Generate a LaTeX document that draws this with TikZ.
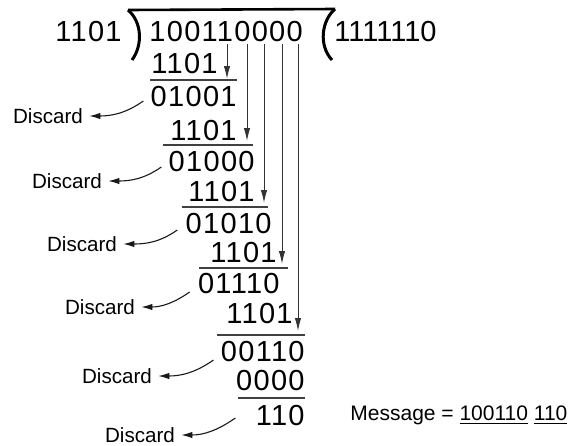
\documentclass[tikz,border=0pt]{standalone}
\usepackage{fontspec}
\setmainfont{Liberation Sans}
\newfontfamily\spreadfont[LetterSpace=4.5]{Liberation Sans}
\usetikzlibrary{arrows.meta}

\begin{document}
\begin{tikzpicture}[x=0.5pt, y=-0.5pt,
    num/.style={inner sep=0pt, font=\spreadfont\fontsize{14.5}{17}\selectfont},
    discard/.style={inner sep=3pt, font=\fontsize{10.3}{12}\selectfont},
    rule/.style={black!75, line width=0.8pt},
    drop/.style={black!80, line width=0.5pt, -{Latex[length=6.5pt, width=3.2pt]}},
    toss/.style={black!90, line width=0.55pt, -{Latex[length=5.5pt, width=3.2pt]}}]
  \useasboundingbox (0,0) rectangle (572,445);

  % Draw the division bracket
  \draw[line width=1.5pt] (128,10) .. controls (142,22) and (143,45) .. (132,60);
  \draw[line width=1.3pt] (128,10) -- (335,9);
  \draw[line width=1.5pt] (335,9) .. controls (322,20) and (318,45) .. (332,60);

  % Divisor, dividend and quotient
  \node[num, anchor=east] (divisor) at (122,32) {1101};
  \node[num, anchor=west] (dividend) at (149,32) {100110000};
  \node[num, anchor=west, font=\fontsize{14.5}{17}\selectfont] (quotient) at (334,32) {1111110};

  % Steps of the long division
  \node[num, anchor=east] (s1) at (218,64) {1101};
  \node[num, anchor=east] (r1) at (237,97) {01001};
  \node[num, anchor=east] (s2) at (237,131) {1101};
  \node[num, anchor=east] (r2) at (255,162) {01000};
  \node[num, anchor=east] (s3) at (255,192) {1101};
  \node[num, anchor=east] (r3) at (272,224) {01010};
  \node[num, anchor=east] (s4) at (277,253) {1101};
  \node[num, anchor=east] (r4) at (280,284) {01110};
  \node[num, anchor=east] (s5) at (293,314) {1101};
  \node[num, anchor=east] (r5) at (305,352) {00110};
  \node[num, anchor=east] (s6) at (305,381) {0000};
  \node[num, anchor=east] (r6) at (305,416) {110};

  % Subtraction lines
  \draw[rule] (150,80) -- (237,80);
  \draw[rule] (163,145) -- (253,145);
  \draw[rule] (182,207) -- (268,207);
  \draw[rule] (199,268) -- (288,268);
  \draw[rule] (217,335) -- (305,335);
  \draw[rule] (238,398) -- (305,398);

  % Bring down the next bits
  \coordinate (top1) at (227,44);  \coordinate (bot1) at (227,79);
  \coordinate (top2) at (247,44);  \coordinate (bot2) at (247,141);
  \coordinate (top3) at (264,44);  \coordinate (bot3) at (264,203);
  \coordinate (top4) at (282,44);  \coordinate (bot4) at (282,264);
  \coordinate (top5) at (298,44);  \coordinate (bot5) at (298,331);
  \draw[drop] (top1) -- (bot1);
  \draw[drop] (top2) -- (bot2);
  \draw[drop] (top3) -- (bot3);
  \draw[drop] (top4) -- (bot4);
  \draw[drop] (top5) -- (bot5);

  % Discarded leading bits
  \node[discard] (x1) at (48,116) {Discard};
  \node[discard] (x2) at (67,181) {Discard};
  \node[discard] (x3) at (82,244) {Discard};
  \node[discard] (x4) at (100,307) {Discard};
  \node[discard] (x5) at (117,376) {Discard};
  \node[discard] (x6) at (140,435) {Discard};
  \draw[toss] ([shift={(-7,4)}]r1.west) to[out=215, in=0] (x1);
  \draw[toss] ([shift={(-7,5)}]r2.west) to[out=215, in=0] (x2);
  \draw[toss] ([shift={(-8,6)}]r3.west) to[out=215, in=0] (x3);
  \draw[toss] ([shift={(-8,8)}]r4.west) to[out=215, in=0] (x4);
  \draw[toss] ([shift={(-7,8)}]r5.west) to[out=215, in=0] (x5);
  \draw[toss] ([shift={(-20,2)}]r6.west) to[out=215, in=0] (x6);

  % Result
  \node[anchor=west, inner sep=0pt, font=\fontsize{10.5}{12}\selectfont] (msg) at (350,415)
    {Message = \underline{100110} \underline{110}};
\end{tikzpicture}
\end{document}
